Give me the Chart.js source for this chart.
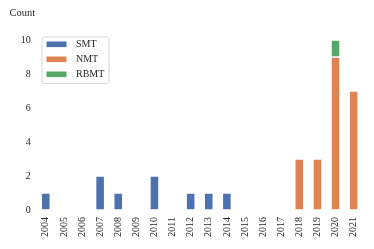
<!DOCTYPE html>
<html>
<head>
<meta charset="utf-8">
<script src="https://cdn.jsdelivr.net/npm/chart.js@4.4.1/dist/chart.umd.min.js"></script>
<style>
  html, body { margin: 0; padding: 0; background: #fff; }
  #wrap { width: 374px; height: 249px; position: relative; }
</style>
</head>
<body>
<div id="wrap"><canvas id="barChart"></canvas></div>
<script>
// data
var years = ['2004', '2005', '2006', '2007', '2008', '2009', '2010', '2011', '2012',
             '2013', '2014', '2015', '2016', '2017', '2018', '2019', '2020', '2021'];
var smtCounts  = [1, 0, 0, 2, 1, 0, 2, 0, 1, 1, 1, 0, 0, 0, 0, 0, 0, 0];
var nmtCounts  = [0, 0, 0, 0, 0, 0, 0, 0, 0, 0, 0, 0, 0, 0, 3, 3, 9, 7];
var rbmtCounts = [0, 0, 0, 0, 0, 0, 0, 0, 0, 0, 0, 0, 0, 0, 0, 0, 1, 0];
var yTicks = [0, 2, 4, 6, 8, 10];

var serif = '"Liberation Serif", "DejaVu Serif", serif';
var textColor = '#262626';

function barSet(label, data, color) {
  return {
    label: label,
    data: data,
    backgroundColor: color,
    borderColor: '#ffffff',
    borderWidth: 0.75,
    borderSkipped: false,
    barPercentage: 0.5,
    categoryPercentage: 1.0
  };
}

// "Count" label and framed legend, drawn like the matplotlib ones
var decorPlugin = {
  id: 'decor',
  afterDraw: function (chart) {
    var ctx = chart.ctx;
    ctx.save();
    ctx.fillStyle = textColor;
    ctx.font = '10.5px ' + serif;
    ctx.textAlign = 'left';
    ctx.textBaseline = 'alphabetic';
    ctx.fillText('Count', 9.5, 16);

    // legend frame
    var x0 = 42, y0 = 37, w = 67, h = 46.5, r = 2.5;
    ctx.beginPath();
    ctx.roundRect(x0, y0, w, h, r);
    ctx.fillStyle = 'rgba(255,255,255,0.8)';
    ctx.fill();
    ctx.strokeStyle = '#d6d6d6';
    ctx.lineWidth = 1;
    ctx.stroke();

    ctx.font = '10px ' + serif;
    ctx.textBaseline = 'middle';
    chart.data.datasets.forEach(function (ds, i) {
      var cy = 44.3 + i * 15;
      ctx.fillStyle = ds.backgroundColor;
      ctx.fillRect(46.5, cy - 2.8, 20, 5.6);
      ctx.fillStyle = textColor;
      ctx.fillText(ds.label, 76, cy + 0.5);
    });
    ctx.restore();
  }
};

var barCtx = document.getElementById('barChart').getContext('2d');
var barChart = new Chart(barCtx, {
  type: 'bar',
  data: {
    labels: years,
    datasets: [
      barSet('SMT', smtCounts, '#4c72b0'),
      barSet('NMT', nmtCounts, '#dd8452'),
      barSet('RBMT', rbmtCounts, '#55a868')
    ]
  },
  options: {
    responsive: true,
    maintainAspectRatio: false,
    animation: false,
    layout: {
      padding: { left: 0, top: 31.5, right: 11.3, bottom: 0 }
    },
    plugins: {
      legend: { display: false },
      title: { display: false },
      tooltip: { enabled: false }
    },
    scales: {
      x: {
        stacked: true,
        offset: true,
        grid: { display: false, drawTicks: false },
        border: { display: false },
        ticks: {
          color: textColor,
          font: { family: serif, size: 10 },
          minRotation: 90,
          maxRotation: 90,
          autoSkip: false,
          padding: 7
        },
        afterFit: function (scale) { scale.height = 39; }
      },
      y: {
        stacked: true,
        min: 0,
        max: 10.5,
        grid: { display: false, drawTicks: false },
        border: { display: false },
        afterBuildTicks: function (scale) {
          scale.ticks = yTicks.map(function (v) { return { value: v }; });
        },
        ticks: {
          color: textColor,
          font: { family: serif, size: 10 },
          padding: 6
        },
        afterFit: function (scale) { scale.width = 36.75; }
      }
    }
  },
  plugins: [decorPlugin]
});
</script>
</body>
</html>
